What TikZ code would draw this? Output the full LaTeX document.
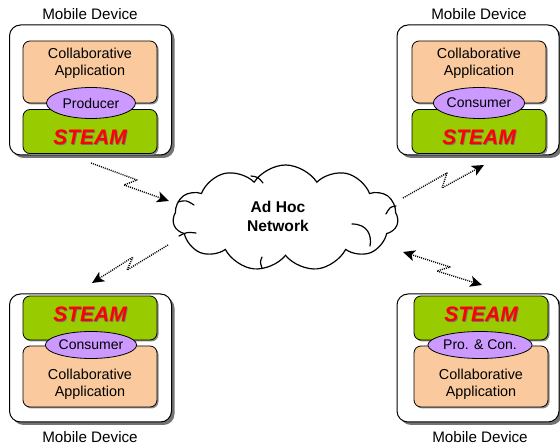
\documentclass[tikz,border=0pt]{standalone}
\usepackage{fontspec}
\setmainfont{Liberation Sans}
\usetikzlibrary{shapes.geometric,shapes.symbols,arrows.meta,shadows,calc}

\definecolor{appfill}{RGB}{250,202,158}
\definecolor{steamfill}{RGB}{153,204,0}
\definecolor{rolefill}{RGB}{204,153,255}
\definecolor{steamred}{RGB}{255,0,0}

\tikzset{
  device/.style={draw, line width=1pt, fill=white, rounded corners=11pt,
    minimum width=162pt, minimum height=130pt, inner sep=0pt,
    drop shadow={shadow xshift=3pt, shadow yshift=-3pt, fill=black!55, opacity=1}},
  layer/.style={draw, line width=0.8pt, rounded corners=7pt,
    minimum width=134pt, inner sep=0pt,
    drop shadow={shadow xshift=1.5pt, shadow yshift=-1.5pt, fill=black!45, opacity=1}},
  appbox/.style={layer, fill=appfill, minimum height=62pt},
  steambox/.style={layer, fill=steamfill, minimum height=44pt},
  role/.style={ellipse, draw, line width=0.8pt, fill=rolefill,
    minimum width=89pt, minimum height=31pt, inner sep=0pt,
    font=\fontsize{14}{16}\selectfont},
  apptext/.style={align=center, inner sep=0pt, font=\fontsize{14.4}{17}\selectfont},
  steamtext/.style={anchor=base, inner sep=0pt, text=steamred,
    font=\fontsize{21}{24}\selectfont\bfseries\itshape},
  devlabel/.style={inner sep=0pt, font=\fontsize{15.2}{17}\selectfont},
  link/.style={line width=1.4pt, dash pattern=on 1pt off 1.1pt, line join=round},
  tip/.style={-{Stealth[length=12pt,width=11pt,inset=3pt]}},
  tips/.style={{Stealth[length=12pt,width=11pt,inset=3pt]}-{Stealth[length=12pt,width=11pt,inset=3pt]}},
  curl/.style={line width=1.2pt, line cap=round}
}

% STEAM logo with a faint dark shadow behind the red letters
\newcommand{\steamlogo}[2]{%
  \node[steamtext, text=black!55] at ($(#1)+(0.8,0.8)$) {STEAM};
  \node[steamtext] (#2) at (#1) {STEAM};}

\begin{document}
\begin{tikzpicture}[x=1pt, y=-1pt]
\useasboundingbox (0,0) rectangle (560,446);

% ---------- top-left device: producer ----------
\node[devlabel] (tlLabel) at (90,14) {Mobile Device};
\node[device] (tlDev) at (90.5,90) {};
\node[appbox] (tlApp) at (90,72) {};
\node[steambox] (tlSteam) at (90,131.5) {};
\node[apptext] (tlAppText) at (90,63) {Collaborative\\Application};
\steamlogo{90,145}{tlLogo}
\node[role] (tlRole) at (91,103) {Producer};

% ---------- top-right device: consumer ----------
\node[devlabel] (trLabel) at (479,14) {Mobile Device};
\node[device] (trDev) at (478,90) {};
\node[appbox] (trApp) at (479,72) {};
\node[steambox] (trSteam) at (479,131.5) {};
\node[apptext] (trAppText) at (479,63) {Collaborative\\Application};
\steamlogo{479,145}{trLogo}
\node[role] (trRole) at (479,103) {Consumer};

% ---------- bottom-left device: consumer ----------
\node[device, minimum height=128pt] (blDev) at (90.5,358) {};
\node[steambox] (blSteam) at (90,318) {};
\node[appbox, minimum height=61pt] (blApp) at (90,376.5) {};
\node[apptext] (blAppText) at (90,384.5) {Collaborative\\Application};
\steamlogo{90,322}{blLogo}
\node[role, minimum height=27pt] (blRole) at (91,345) {Consumer};
\node[devlabel] (blLabel) at (90,437.5) {Mobile Device};

% ---------- bottom-right device: producer & consumer ----------
\node[device, minimum height=128pt] (brDev) at (478,358) {};
\node[steambox] (brSteam) at (481,318) {};
\node[appbox, minimum height=61pt] (brApp) at (481,376.5) {};
\node[apptext] (brAppText) at (481,384.5) {Collaborative\\Application};
\steamlogo{481,322}{brLogo}
\node[role, minimum height=27pt] (brRole) at (480,345) {Pro. \& Con.};
\node[devlabel] (brLabel) at (480,437.5) {Mobile Device};

% ---------- ad hoc network cloud ----------
\node[cloud, draw, line width=1.2pt, fill=white, cloud puffs=11, cloud puff arc=115,
      cloud ignores aspect, minimum width=225pt, minimum height=106pt, inner sep=0pt]
      (net) at (285.5,218) {};
% inner puff strokes
\draw[curl] (178,202) .. controls (186,200) .. (194,205);
\draw[curl] (179,236) .. controls (187,232) .. (196,233);
\draw[curl] (396,206) .. controls (390,207) .. (386,214);
\draw[curl] (352,224) .. controls (368,224) and (372,236) .. (370,246);
\draw[curl] (262,268) .. controls (260,262) .. (262,257);
\draw[curl] (251,176) .. controls (258,177) .. (263,183);
\node[align=center, inner sep=0pt, font=\fontsize{15.6}{19}\selectfont\bfseries]
      (netText) at (278,216) {Ad Hoc\\Network};

% ---------- wireless links (zig-zag dotted arrows) ----------
\coordinate (l1a) at (91,163);  \coordinate (l1b) at (137,180);
\coordinate (l1c) at (124,185); \coordinate (l1d) at (169,201);
\draw[link, tip] (l1a) -- (l1b) -- (l1c) -- (l1d);

\coordinate (l2a) at (403,198); \coordinate (l2b) at (447,173);
\coordinate (l2c) at (442,188); \coordinate (l2d) at (484,165);
\draw[link, tip] (l2a) -- (l2b) -- (l2c) -- (l2d);

\coordinate (l3a) at (168,245); \coordinate (l3b) at (127,270);
\coordinate (l3c) at (133,257); \coordinate (l3d) at (92,283);
\draw[link, tip] (l3a) -- (l3b) -- (l3c) -- (l3d);

\coordinate (l4a) at (403,252); \coordinate (l4b) at (450,267);
\coordinate (l4c) at (437,271); \coordinate (l4d) at (482,285);
\draw[link, tips] (l4a) -- (l4b) -- (l4c) -- (l4d);
\end{tikzpicture}
\end{document}
